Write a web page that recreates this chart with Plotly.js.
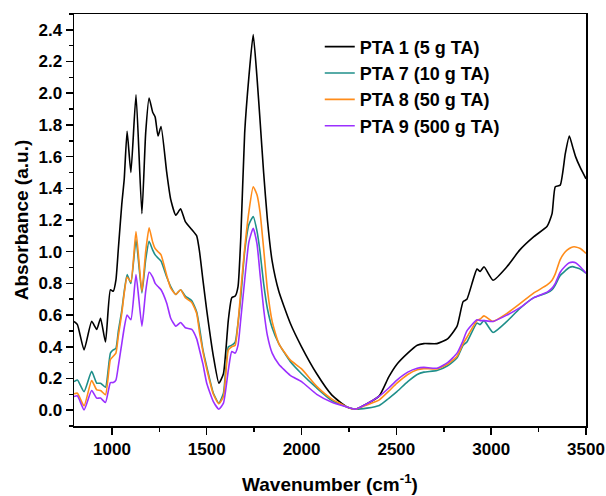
<!DOCTYPE html>
<html>
<head>
<meta charset="utf-8">
<script src="https://cdn.plot.ly/plotly-3.0.1.min.js"></script>
<style>html,body{margin:0;padding:0;background:#fff;}#chart{width:606px;height:496px;}</style>
</head>
<body>
<div id="chart"></div>
<script>
// Wavenumber grid (cm-1)
const wavenumber = [800, 818, 853, 893, 920, 940, 966, 992, 1007, 1021, 1034, 1052, 1065, 1080, 1100, 1127, 1158, 1178, 1196, 1215, 1228, 1243, 1259, 1289, 1310, 1337, 1362, 1387, 1421, 1447, 1462, 1480, 1500, 1535, 1564, 1588, 1614, 1632, 1650, 1665, 1680, 1700, 1722, 1745, 1765, 1781, 1800, 1820, 1845, 1880, 1940, 2000, 2080, 2160, 2240, 2283, 2345, 2410, 2460, 2503, 2560, 2610, 2645, 2714, 2770, 2820, 2852, 2872, 2925, 2942, 2962, 3010, 3083, 3150, 3225, 3295, 3321, 3338, 3364, 3391, 3412, 3430, 3445, 3470, 3500];

// PTA 1 (5 g TA)
const pta1 = [0.56, 0.54, 0.38, 0.56, 0.51, 0.58, 0.43, 0.76, 0.75, 0.82, 1.02, 1.30, 1.46, 1.76, 1.50, 1.99, 1.24, 1.75, 1.97, 1.88, 1.85, 1.73, 1.79, 1.50, 1.33, 1.23, 1.27, 1.19, 1.14, 1.10, 1.00, 0.82, 0.63, 0.34, 0.17, 0.23, 0.57, 0.71, 0.72, 0.78, 1.10, 1.75, 2.10, 2.37, 2.10, 1.83, 1.50, 1.20, 0.94, 0.75, 0.55, 0.40, 0.23, 0.095, 0.02, 0.006, 0.04, 0.09, 0.21, 0.29, 0.36, 0.41, 0.42, 0.42, 0.45, 0.53, 0.685, 0.70, 0.89, 0.875, 0.905, 0.82, 0.905, 1.01, 1.095, 1.16, 1.24, 1.41, 1.42, 1.62, 1.73, 1.66, 1.60, 1.53, 1.46];

// PTA 7 (10 g TA)
const pta7 = [0.18, 0.19, 0.117, 0.245, 0.17, 0.17, 0.145, 0.36, 0.38, 0.39, 0.50, 0.63, 0.75, 0.855, 0.80, 1.075, 0.74, 0.95, 1.065, 1.01, 0.98, 0.96, 0.94, 0.84, 0.78, 0.73, 0.76, 0.72, 0.69, 0.62, 0.52, 0.38, 0.275, 0.107, 0.044, 0.107, 0.40, 0.41, 0.43, 0.55, 0.72, 1.00, 1.17, 1.222, 1.13, 1.00, 0.80, 0.64, 0.52, 0.42, 0.307, 0.23, 0.14, 0.06, 0.02, 0.006, 0.013, 0.03, 0.075, 0.117, 0.18, 0.225, 0.24, 0.25, 0.28, 0.33, 0.41, 0.43, 0.55, 0.54, 0.565, 0.49, 0.56, 0.64, 0.71, 0.74, 0.76, 0.79, 0.85, 0.88, 0.90, 0.906, 0.90, 0.89, 0.864];

// PTA 8 (50 g TA)
const pta8 = [0.103, 0.107, 0.027, 0.187, 0.128, 0.124, 0.097, 0.32, 0.34, 0.36, 0.47, 0.61, 0.74, 0.84, 0.81, 1.127, 0.75, 1.00, 1.15, 1.06, 1.02, 1.00, 0.98, 0.85, 0.77, 0.73, 0.76, 0.71, 0.68, 0.61, 0.49, 0.37, 0.26, 0.10, 0.04, 0.086, 0.38, 0.40, 0.41, 0.55, 0.76, 1.02, 1.25, 1.41, 1.36, 1.25, 1.02, 0.76, 0.56, 0.42, 0.317, 0.26, 0.15, 0.07, 0.02, 0.006, 0.033, 0.065, 0.12, 0.17, 0.225, 0.255, 0.262, 0.26, 0.29, 0.34, 0.42, 0.46, 0.565, 0.575, 0.595, 0.56, 0.61, 0.67, 0.74, 0.79, 0.82, 0.86, 0.95, 1.00, 1.02, 1.03, 1.03, 1.02, 0.99];

// PTA 9 (500 g TA)
const pta9 = [0.086, 0.09, 0.002, 0.124, 0.076, 0.076, 0.048, 0.174, 0.174, 0.19, 0.28, 0.42, 0.52, 0.60, 0.57, 0.855, 0.53, 0.75, 0.87, 0.84, 0.80, 0.78, 0.76, 0.675, 0.58, 0.53, 0.553, 0.52, 0.51, 0.45, 0.38, 0.29, 0.17, 0.054, 0.006, 0.044, 0.254, 0.37, 0.36, 0.41, 0.58, 0.82, 1.06, 1.148, 1.05, 0.86, 0.64, 0.47, 0.36, 0.29, 0.22, 0.18, 0.10, 0.05, 0.02, 0.006, 0.04, 0.088, 0.14, 0.19, 0.24, 0.265, 0.27, 0.265, 0.30, 0.36, 0.44, 0.50, 0.57, 0.565, 0.565, 0.56, 0.60, 0.645, 0.71, 0.745, 0.77, 0.80, 0.87, 0.91, 0.93, 0.934, 0.93, 0.905, 0.864];

const seriesNames = ['PTA 1 (5 g TA)', 'PTA 7 (10 g TA)', 'PTA 8 (50 g TA)', 'PTA 9 (500 g TA)'];
const seriesColors = ['#000000', '#1f8f8a', '#ff8c1a', '#9b30ff'];
const seriesData = [pta1, pta7, pta8, pta9];

const FONT = 'Liberation Sans, Arial, Helvetica, sans-serif';

const traces = seriesData.map((y, i) => ({
  x: wavenumber,
  y: y,
  type: 'scatter',
  mode: 'lines',
  name: seriesNames[i],
  line: {color: seriesColors[i], width: 1.6, shape: 'spline', smoothing: 0.5}
}));

const layout = {
  width: 606,
  height: 496,
  margin: {l: 74, r: 20, t: 14, b: 70},
  paper_bgcolor: '#ffffff',
  plot_bgcolor: '#ffffff',
  font: {family: FONT, color: '#000'},
  showlegend: true,
  legend: {
    x: 0.48, y: 0.965, xanchor: 'left', yanchor: 'top',
    bgcolor: 'rgba(0,0,0,0)',
    font: {family: FONT, size: 18, weight: 'bold', color: '#000'},
    tracegroupgap: 0
  },
  xaxis: {
    range: [800, 3500],
    tickmode: 'linear', tick0: 1000, dtick: 500,
    ticks: 'outside', ticklen: 7, tickwidth: 1.5, tickcolor: '#000',
    minor: {tickmode: 'linear', tick0: 750, dtick: 250, ticks: 'outside', ticklen: 4, tickwidth: 1.5, tickcolor: '#000'},
    showline: true, linecolor: '#000', linewidth: 1.5, mirror: true,
    showgrid: false, zeroline: false,
    tickfont: {family: FONT, size: 17, weight: 'bold', color: '#000'},
    title: {text: 'Wavenumber (cm<sup>-1</sup>)', font: {family: FONT, size: 19, weight: 'bold', color: '#000'}, standoff: 20}
  },
  yaxis: {
    range: [-0.1, 2.5],
    tickmode: 'linear', tick0: 0, dtick: 0.2, tickformat: '.1f',
    ticks: 'outside', ticklen: 7, tickwidth: 1.5, tickcolor: '#000',
    minor: {tickmode: 'linear', tick0: 0, dtick: 0.1, ticks: 'outside', ticklen: 4, tickwidth: 1.5, tickcolor: '#000'},
    showline: true, linecolor: '#000', linewidth: 1.5, mirror: true,
    showgrid: false, zeroline: false,
    tickfont: {family: FONT, size: 17, weight: 'bold', color: '#000'},
    title: {text: 'Absorbance (a.u.)', font: {family: FONT, size: 19, weight: 'bold', color: '#000'}, standoff: 5}
  }
};

Plotly.newPlot('chart', traces, layout, {displayModeBar: false, staticPlot: true});
</script>
</body>
</html>
